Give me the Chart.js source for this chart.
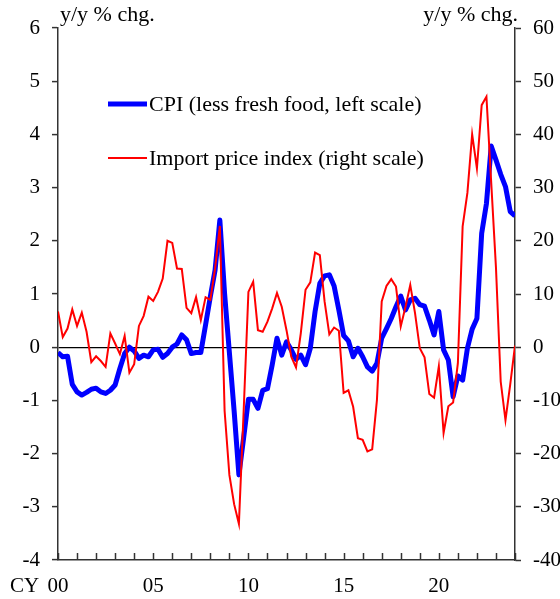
<!DOCTYPE html>
<html><head><meta charset="utf-8">
<script src="https://cdn.jsdelivr.net/npm/chart.js@4/dist/chart.umd.min.js"></script>
<style>html,body{margin:0;padding:0;background:#fff}#wrap{width:560px;height:599px;position:relative}</style>
</head><body><div id="wrap"><canvas id="c"></canvas></div>
<script>
// Quarterly data, 2000Q1 .. 2024Q1
const startYear = 2000;
const cpiLessFreshFood = [
 -0.10,-0.18,-0.17,-0.70,-0.84,-0.90,-0.85,-0.79,-0.77,-0.84,
 -0.87,-0.81,-0.71,-0.40,-0.12, 0.00,-0.07,-0.21,-0.15,-0.18,
 -0.05,-0.04,-0.19,-0.12, 0.00, 0.06, 0.23, 0.14,-0.12,-0.10,
 -0.10, 0.42, 0.95, 1.45, 2.39, 1.00,-0.10,-1.20,-2.40,-1.70,
 -0.98,-0.98,-1.15,-0.81,-0.78,-0.33, 0.17,-0.15, 0.10,-0.05,
 -0.23,-0.15,-0.33,-0.02, 0.67, 1.20, 1.34, 1.36, 1.15, 0.70,
  0.22, 0.12,-0.18,-0.02,-0.18,-0.37,-0.45,-0.30, 0.17, 0.35,
  0.54, 0.76, 0.96, 0.70, 0.89, 0.92, 0.80, 0.77, 0.51, 0.23,
  0.67,-0.05,-0.24,-0.93,-0.54,-0.62,-0.02, 0.34, 0.54, 2.14,
  2.70, 3.78, 3.52, 3.25, 3.02, 2.55, 2.47
];
const importPriceIndex = [
  6.7, 1.9, 3.5, 7.1, 4.0, 6.5, 2.9,-2.8,-1.7,-2.6,
 -3.7, 2.6, 0.7,-1.3, 2.1,-4.8,-3.2, 4.0, 5.9, 9.5,
  8.7,10.4,12.9,20.0,19.6,14.8,14.7, 7.4, 6.4, 9.4,
  5.1, 9.4, 8.9,14.8,22.8,-12.0,-24.0,-29.5,-33.2,-12.0,
 10.4,12.3, 3.2, 2.9, 4.8, 7.3,10.2, 7.6, 3.2,-1.8,
 -3.8, 2.6,10.8,12.2,17.8,17.3, 8.6, 2.4, 3.7, 3.1,
 -8.6,-8.1,-11.2,-17.1,-17.4,-19.6,-19.2,-9.9, 8.6,11.5,
 12.8,11.4, 3.9, 7.6,11.7, 6.4,-0.2,-1.9,-8.8,-9.5,
 -3.6,-16.1,-11.1,-10.4,-3.0,22.7,29.0,40.0,33.6,45.5,
 47.1,31.0,15.0,-6.5,-13.7,-7.0, 0.3
];
const xTickYears = [2000, 2005, 2010, 2015, 2020];
const xTickLabels = ['00', '05', '10', '15', '20'];
const seriesNames = ['CPI (less fresh food, left scale)', 'Import price index (right scale)'];
const unitLabel = 'y/y % chg.';
const axisPrefix = 'CY';

const FONT = '"Liberation Serif", "Times New Roman", serif';
const toPoints = arr => arr.map((v, i) => ({x: i, y: v}));
const nQ = cpiLessFreshFood.length - 1;

const extras = {
  id: 'extras',
  afterDraw(chart) {
    const ctx = chart.ctx, a = chart.chartArea, xs = chart.scales.x;
    ctx.save();
    // inward year ticks on the x axis
    ctx.strokeStyle = '#333'; ctx.lineWidth = 1.5;
    for (let q = 0; q <= nQ; q += 4) {
      const px = Math.round(xs.getPixelForValue(q)) + 0.5;
      ctx.beginPath(); ctx.moveTo(px, a.bottom); ctx.lineTo(px, a.bottom - 7); ctx.stroke();
    }
    ctx.fillStyle = '#000';
    ctx.font = '22px ' + FONT;
    ctx.textBaseline = 'alphabetic';
    ctx.textAlign = 'left'; ctx.fillText(unitLabel, 60, 21);
    ctx.textAlign = 'right'; ctx.fillText(unitLabel, 518, 21);
    ctx.font = '21px ' + FONT;
    ctx.textAlign = 'left'; ctx.fillText(axisPrefix, 10, 592);
    // legend
    const ds = chart.data.datasets;
    const rows = [{d: ds[0], y: 104}, {d: ds[1], y: 158}];
    ctx.font = '22px ' + FONT;
    ctx.textBaseline = 'middle';
    rows.forEach(r => {
      ctx.strokeStyle = r.d.borderColor; ctx.lineWidth = r.d.borderWidth;
      ctx.beginPath(); ctx.moveTo(108, r.y); ctx.lineTo(147, r.y); ctx.stroke();
      ctx.fillStyle = '#000'; ctx.textAlign = 'left';
      ctx.fillText(r.d.label, 149, r.y + 1);
    });
    ctx.restore();
  }
};

new Chart(document.getElementById('c'), {
  type: 'line',
  data: {
    datasets: [
      {label: seriesNames[0], data: toPoints(cpiLessFreshFood), yAxisID: 'yL',
       borderColor: '#0000ff', borderWidth: 5, pointRadius: 0, tension: 0, order: 1, borderJoinStyle: 'round'},
      {label: seriesNames[1], data: toPoints(importPriceIndex), yAxisID: 'yR',
       borderColor: '#ff0000', borderWidth: 2, pointRadius: 0, tension: 0, order: 0}
    ]
  },
  options: {
    responsive: true, maintainAspectRatio: false, animation: false,
    layout: {padding: {top: 28, left: 0, right: 0, bottom: 0}},
    plugins: {legend: {display: false}, tooltip: {enabled: false}},
    scales: {
      x: {
        type: 'linear', min: 0, max: nQ, position: 'bottom',
        grid: {display: false, drawTicks: false},
        border: {display: true, color: '#333', width: 1.5},
        ticks: {
          stepSize: 4, autoSkip: false, maxRotation: 0, padding: 14, color: '#000',
          font: {family: FONT, size: 21},
          callback: v => {
            const idx = xTickYears.indexOf(startYear + v / 4);
            return idx >= 0 ? xTickLabels[idx] : '';
          }
        },
        afterFit: s => { s.height = 39; }
      },
      yL: {
        position: 'left', min: -4, max: 6,
        grid: {drawOnChartArea: true, color: c => c.tick && c.tick.value === 0 ? '#000' : 'rgba(0,0,0,0)',
               lineWidth: 1.2, tickLength: 6, tickColor: '#333', tickWidth: 1.5},
        border: {display: true, color: '#333', width: 1.5},
        ticks: {stepSize: 1, padding: 12, color: '#000', font: {family: FONT, size: 21}},
        afterFit: s => { s.width = 58; }
      },
      yR: {
        position: 'right', min: -40, max: 60,
        grid: {drawOnChartArea: false, tickLength: 6, tickColor: '#333', tickWidth: 1.5},
        border: {display: true, color: '#333', width: 1.5},
        ticks: {stepSize: 10, padding: 12, color: '#000', font: {family: FONT, size: 21}},
        afterFit: s => { s.width = 45; }
      }
    }
  },
  plugins: [extras]
});
</script></body></html>
